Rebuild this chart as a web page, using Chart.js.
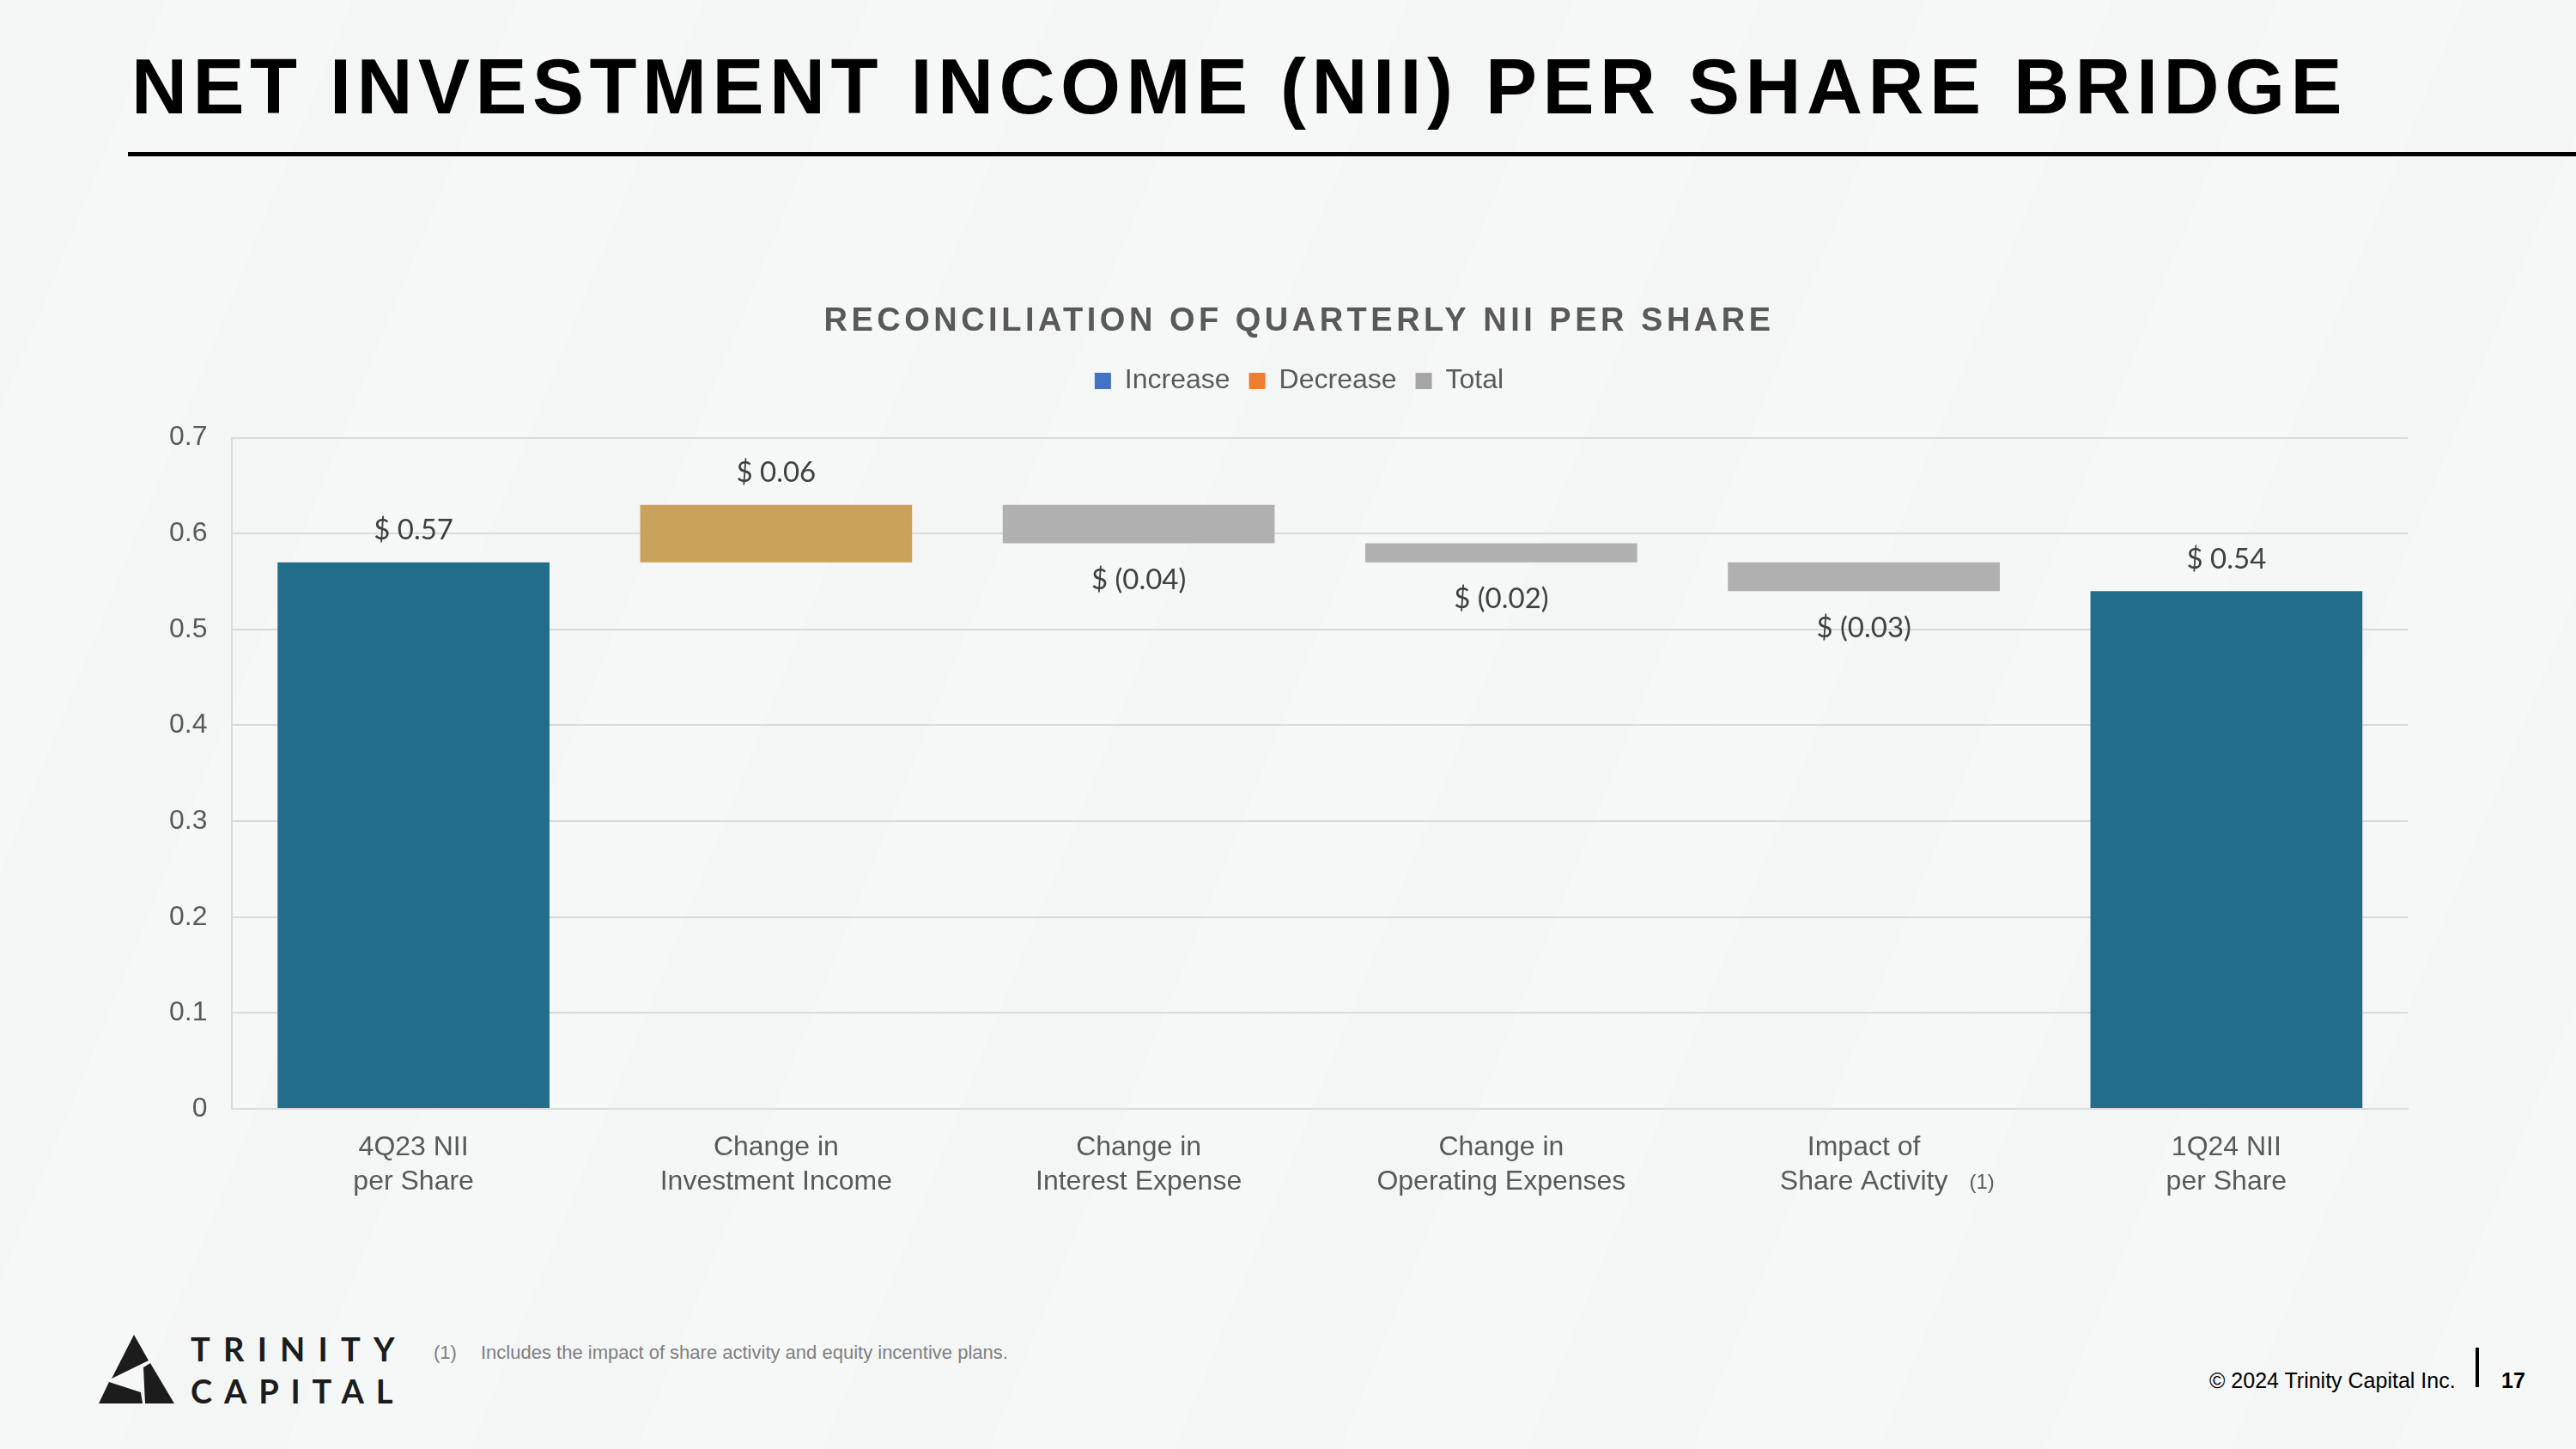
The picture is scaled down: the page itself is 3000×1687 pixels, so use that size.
<!DOCTYPE html>
<html>
<head>
<meta charset="utf-8">
<script src="https://cdn.jsdelivr.net/npm/chart.js@4.4.1/dist/chart.umd.min.js"></script>
<style>
  html, body { margin: 0; padding: 0; }
  body {
    width: 3000px; height: 1687px; position: relative; overflow: hidden;
    background-color: #f4f6f6;
    background-image: repeating-linear-gradient(112deg,
      rgba(255,255,255,0) 0px, rgba(255,255,255,0) 180px,
      rgba(255,255,255,.18) 180px, rgba(255,255,255,.18) 380px);
  }
  #deco { position: absolute; left: 0; top: 0; }
  #wrap { position: absolute; left: 0; top: 0; width: 3000px; height: 1687px; }
</style>
</head>
<body>
<svg id="deco" width="3000" height="1687" font-family="'Liberation Sans', Arial, sans-serif">
  <text x="153" y="132" font-size="90" font-weight="700" letter-spacing="6.5" fill="#000">NET INVESTMENT INCOME (NII) PER SHARE BRIDGE</text>
  <rect x="149" y="177" width="2851" height="5" fill="#000"/>

  <!-- logo -->
  <g transform="translate(100,1545)" fill="#1c1c1c">
    <polygon points="56,9 73,39 30,60"/>
    <polygon points="27,64 64,76 66,89 15,89"/>
    <polygon points="67,47 75,42 103,89 69,89"/>
  </g>
  <text x="222" y="1585" font-family="Lato, sans-serif" font-weight="700" font-size="38" letter-spacing="15.2" fill="#1c1c1c">TRINITY</text>
  <text x="222" y="1634" font-family="Lato, sans-serif" font-weight="700" font-size="38" letter-spacing="13.8" fill="#1c1c1c">CAPITAL</text>

  <text x="505" y="1582" font-size="22" fill="#7f7f7f">(1)</text>
  <text x="560" y="1582" font-size="22" fill="#7f7f7f">Includes the impact of share activity and equity incentive plans.</text>

  <text x="2573" y="1616" font-size="25" fill="#000">© 2024 Trinity Capital Inc.</text>
  <rect x="2883" y="1569" width="4" height="46" fill="#000"/>
  <text x="2913" y="1616" font-size="25" font-weight="700" fill="#000">17</text>
</svg>

<div id="wrap"><canvas id="bridge"></canvas></div>

<script>
// ---- data ----
const categories = [
  ['4Q23 NII', 'per Share'],
  ['Change in', 'Investment Income'],
  ['Change in', 'Interest Expense'],
  ['Change in', 'Operating Expenses'],
  ['Impact of', 'Share Activity'],
  ['1Q24 NII', 'per Share']
];
const barLow  = [0,    0.57, 0.59, 0.57, 0.54, 0];
const barHigh = [0.57, 0.63, 0.63, 0.59, 0.57, 0.54];
const changes = [0.57, 0.06, -0.04, -0.02, -0.03, 0.54];
const barColors = ['#226E8A', '#C9A15B', '#B0B0B0', '#B0B0B0', '#B0B0B0', '#226E8A'];
const yTickValues = [0, 0.1, 0.2, 0.3, 0.4, 0.5, 0.6, 0.7];
const legendNames  = ['Increase', 'Decrease', 'Total'];
const legendColors = ['#4472C4', '#ED7D31', '#A5A5A5'];
const chartTitle = 'RECONCILIATION OF QUARTERLY NII PER SHARE';
const footnoteMark = '(1)';
const footnoteIndex = 4;

const GREY_TEXT = '#595959';
const AXIS_FONT = '"Liberation Sans", Arial, sans-serif';
const HEADER_SHIFT = 27; // title + legend sit a bit right of the canvas centre
Chart.defaults.font.family = AXIS_FONT;

const fmt = v => v < 0 ? '$ (' + Math.abs(v).toFixed(2) + ')' : '$ ' + v.toFixed(2);

// value labels: above the bar for increases/totals, below for decreases
const barValueLabels = {
  id: 'barValueLabels',
  afterDatasetsDraw(chart) {
    const { ctx } = chart;
    const meta = chart.getDatasetMeta(0);
    ctx.save();
    ctx.font = '33px Lato, sans-serif';
    ctx.fillStyle = '#404040';
    ctx.textAlign = 'center';
    ctx.textBaseline = 'middle';
    meta.data.forEach((el, i) => {
      const v = changes[i];
      const top = Math.min(el.y, el.base);
      const bottom = Math.max(el.y, el.base);
      ctx.fillText(fmt(v), el.x, v < 0 ? bottom + 43 : top - 37);
    });
    ctx.restore();
  }
};

// small "(1)" marker next to the share activity label
const footnoteTick = {
  id: 'footnoteTick',
  afterDraw(chart) {
    const { ctx } = chart;
    const x = chart.scales.x;
    ctx.save();
    ctx.font = '32px ' + AXIS_FONT;
    const half = ctx.measureText(categories[footnoteIndex][1]).width / 2;
    ctx.font = '24px ' + AXIS_FONT;
    ctx.fillStyle = GREY_TEXT;
    ctx.textAlign = 'left';
    ctx.textBaseline = 'middle';
    ctx.fillText(footnoteMark, x.getPixelForValue(footnoteIndex) + half + 25, x.top + 86);
    ctx.restore();
  }
};

// wrap a box's draw() with a horizontal shift (and optional letter spacing)
function shiftDraw(box, dx, spacing) {
  const draw = box.draw;
  box.draw = function (area) {
    this.ctx.save();
    this.ctx.translate(dx, 0);
    if (spacing) this.ctx.letterSpacing = spacing;
    draw.call(this, area);
    this.ctx.restore();
  };
}

// extra room under the legend, title spacing, header offset
const layoutTweaks = {
  id: 'layoutTweaks',
  afterInit(chart) {
    const lg = chart.legend;
    const fit = lg.fit;
    lg.fit = function () { fit.call(this); this.height += 40; };
    shiftDraw(lg, HEADER_SHIFT);
    shiftDraw(chart.titleBlock, HEADER_SHIFT, '4.5px');
  }
};

new Chart(document.getElementById('bridge'), {
  type: 'bar',
  data: {
    labels: categories,
    datasets: [{
      data: barLow.map((lo, i) => [lo, barHigh[i]]),
      backgroundColor: barColors,
      borderWidth: 0,
      categoryPercentage: 1,
      barPercentage: 0.75
    }]
  },
  options: {
    responsive: true, maintainAspectRatio: false,
    animation: false,
    layout: { padding: { left: 168, right: 196, top: 0, bottom: 266 } },
    plugins: {
      title: {
        display: true,
        text: chartTitle,
        color: GREY_TEXT,
        font: { size: 38, weight: 'bold' },
        padding: { top: 352, bottom: 8 }
      },
      legend: {
        display: true,
        position: 'top',
        onClick: null,
        labels: {
          font: { size: 32 },
          color: GREY_TEXT,
          boxWidth: 19, boxHeight: 19,
          padding: 22,
          generateLabels: () => legendNames.map((t, i) => ({
            text: t, fillStyle: legendColors[i], strokeStyle: legendColors[i],
            fontColor: GREY_TEXT, lineWidth: 0, hidden: false, index: i
          }))
        }
      },
      tooltip: { enabled: false }
    },
    scales: {
      x: {
        grid: { display: false, drawTicks: false },
        border: { display: true, color: '#D9D9D9', width: 2 },
        ticks: {
          font: { size: 32, lineHeight: 1.25 }, color: GREY_TEXT,
          padding: 25, maxRotation: 0, autoSkip: false
        }
      },
      y: {
        min: 0, max: 0.7,
        afterBuildTicks: s => { s.ticks = yTickValues.map(v => ({ value: v })); },
        grid: { color: '#D9D9D9', lineWidth: 2, drawTicks: false },
        border: { display: true, color: '#D9D9D9', width: 2 },
        ticks: { font: { size: 32 }, color: GREY_TEXT, padding: 29, callback: v => String(v) }
      }
    }
  },
  plugins: [layoutTweaks, barValueLabels, footnoteTick]
});
</script>
</body>
</html>
